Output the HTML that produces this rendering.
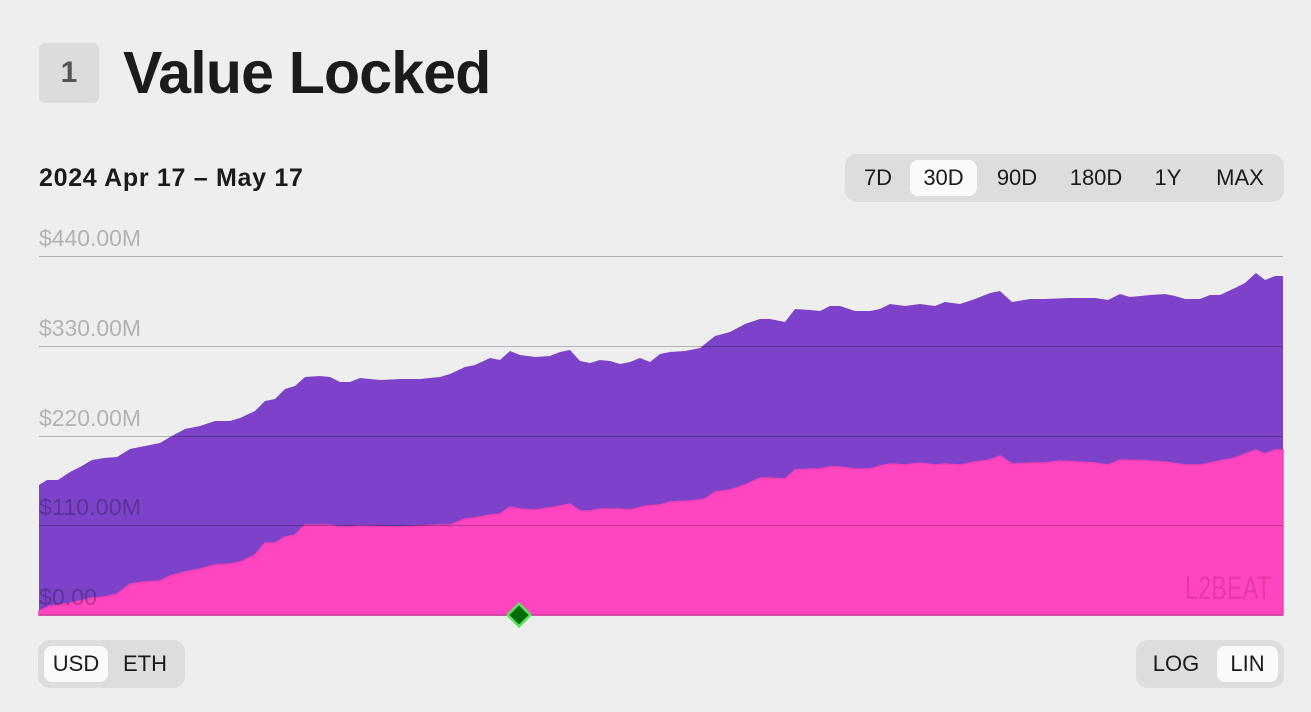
<!DOCTYPE html>
<html><head><meta charset="utf-8"><style>
body{margin:0;width:1311px;height:712px;background:#eeeeee;font-family:"Liberation Sans",sans-serif;position:relative;overflow:hidden;color:#1b1b1b}
.abs{position:absolute}
.badge{left:39px;top:43px;width:60px;height:60px;background:#dcdcdc;border-radius:6px;font-weight:bold;font-size:30px;color:#555;text-align:center;line-height:60px}
.title{left:123px;top:37px;font-size:59px;font-weight:bold;line-height:72px;letter-spacing:-0.8px}
.date{left:39px;top:163px;font-size:25px;font-weight:bold;line-height:30px;letter-spacing:0.7px}
.grp{background:#dddddd;border-radius:12px;height:48px}
.btn{position:absolute;top:6px;height:36px;line-height:36px;font-size:22px;text-align:center;border-radius:8px}
.on{background:#fafafa}
</style></head><body>
<div class="abs badge">1</div>
<div class="abs title">Value Locked</div>
<div class="abs date">2024 Apr 17 – May 17</div>
<div class="abs grp" style="left:845px;top:154px;width:439px">
<div class="btn" style="left:4px;width:58px">7D</div>
<div class="btn on" style="left:65px;width:67px">30D</div>
<div class="btn" style="left:138px;width:68px">90D</div>
<div class="btn" style="left:214px;width:74px">180D</div>
<div class="btn" style="left:296px;width:54px">1Y</div>
<div class="btn" style="left:358px;width:74px">MAX</div>
</div>
<svg class="abs" style="left:0;top:0" width="1311" height="712">
<polygon fill="#7e42ca" points="39,485 47,480 58,480 70,472 80,467 92,460 104,458 117,457 130,449 145,446 160,443 170,437 185,429 200,426 215,421 230,421 240,418 255,411 265,401 275,399 285,389 295,386 305,377 320,376 330,377 340,382 350,382 360,378 380,380 400,379 420,379 440,377 450,374 465,367 475,365 490,358 500,360 510,351 520,355 535,357 550,356 560,352 570,350 580,361 590,363 600,360 610,361 620,364 630,362 640,358 650,362 660,354 670,352 685,351 700,348 715,336 730,332 745,324 760,319 770,319 785,322 795,309 810,310 820,311 830,306 840,306 855,311 870,311 880,309 890,304 905,306 920,304 935,306 945,302 960,304 975,299 990,293 1000,291 1012,302 1030,299 1045,299 1070,298 1095,298 1108,300 1120,294 1130,297 1150,295 1165,294 1175,296 1185,299 1200,299 1210,295 1220,295 1235,288 1245,283 1256,273 1265,280 1275,276 1283,276 1283,615 39,615"/>
<polygon fill="#ff46c0" stroke="#f040b8" stroke-width="1.5" points="39,611 50,606 60,605 70,603 80,601 92,598 104,597 117,594 130,584 145,582 160,581 170,576 185,572 200,569 215,565 230,564 240,562 255,555 265,543 275,543 285,537 295,535 305,525 320,525 330,525 340,527 350,527 360,526 400,527 440,525 450,525 465,519 475,518 490,515 500,514 510,507 520,509 535,510 555,507 570,504 580,511 590,511 600,509 620,509 630,510 645,506 660,505 670,502 690,501 705,499 715,492 730,490 745,485 760,478 770,478 785,479 795,470 810,469 820,469 830,467 840,467 855,469 870,469 880,466 890,464 905,465 920,463 935,465 945,464 960,465 975,462 990,460 1000,456 1012,464 1030,463 1045,463 1060,461 1095,463 1108,465 1120,460 1150,461 1165,462 1185,465 1200,465 1220,461 1235,458 1245,454 1256,450 1265,454 1275,450 1283,450 1283,615 39,615"/>
<g stroke="rgba(0,0,0,0.25)" stroke-width="1">
<line x1="39" x2="1283" y1="256.5" y2="256.5"/>
<line x1="39" x2="1283" y1="346.5" y2="346.5"/>
<line x1="39" x2="1283" y1="436.5" y2="436.5"/>
<line x1="39" x2="1283" y1="525.5" y2="525.5"/>
</g>
<line x1="39" x2="1283" y1="615" y2="615" stroke="#c83c98" stroke-width="1.5"/>
<g fill="rgba(0,0,0,0.25)" font-family="Liberation Sans" font-size="23">
<text x="39" y="246" textLength="102" lengthAdjust="spacingAndGlyphs">$440.00M</text>
<text x="39" y="336" textLength="102" lengthAdjust="spacingAndGlyphs">$330.00M</text>
<text x="39" y="426" textLength="102" lengthAdjust="spacingAndGlyphs">$220.00M</text>
<text x="39" y="515" textLength="102" lengthAdjust="spacingAndGlyphs">$110.00M</text>
<text x="39" y="605" textLength="58" lengthAdjust="spacingAndGlyphs">$0.00</text>
</g>
<text x="1185" y="599" font-family="Liberation Sans" font-size="32" fill="rgba(150,20,100,0.25)" textLength="86" lengthAdjust="spacingAndGlyphs">L2BEAT</text>
<rect x="511" y="607" width="16" height="16" transform="rotate(45 519 615)" fill="#006b00" stroke="#5be35b" stroke-width="2.5"/>
</svg>
<div class="abs grp" style="left:38px;top:640px;width:147px">
<div class="btn on" style="left:6px;width:64px">USD</div>
<div class="btn" style="left:74px;width:66px">ETH</div>
</div>
<div class="abs grp" style="left:1136px;top:640px;width:148px">
<div class="btn" style="left:8px;width:64px">LOG</div>
<div class="btn on" style="left:81px;width:61px">LIN</div>
</div>
</body></html>
